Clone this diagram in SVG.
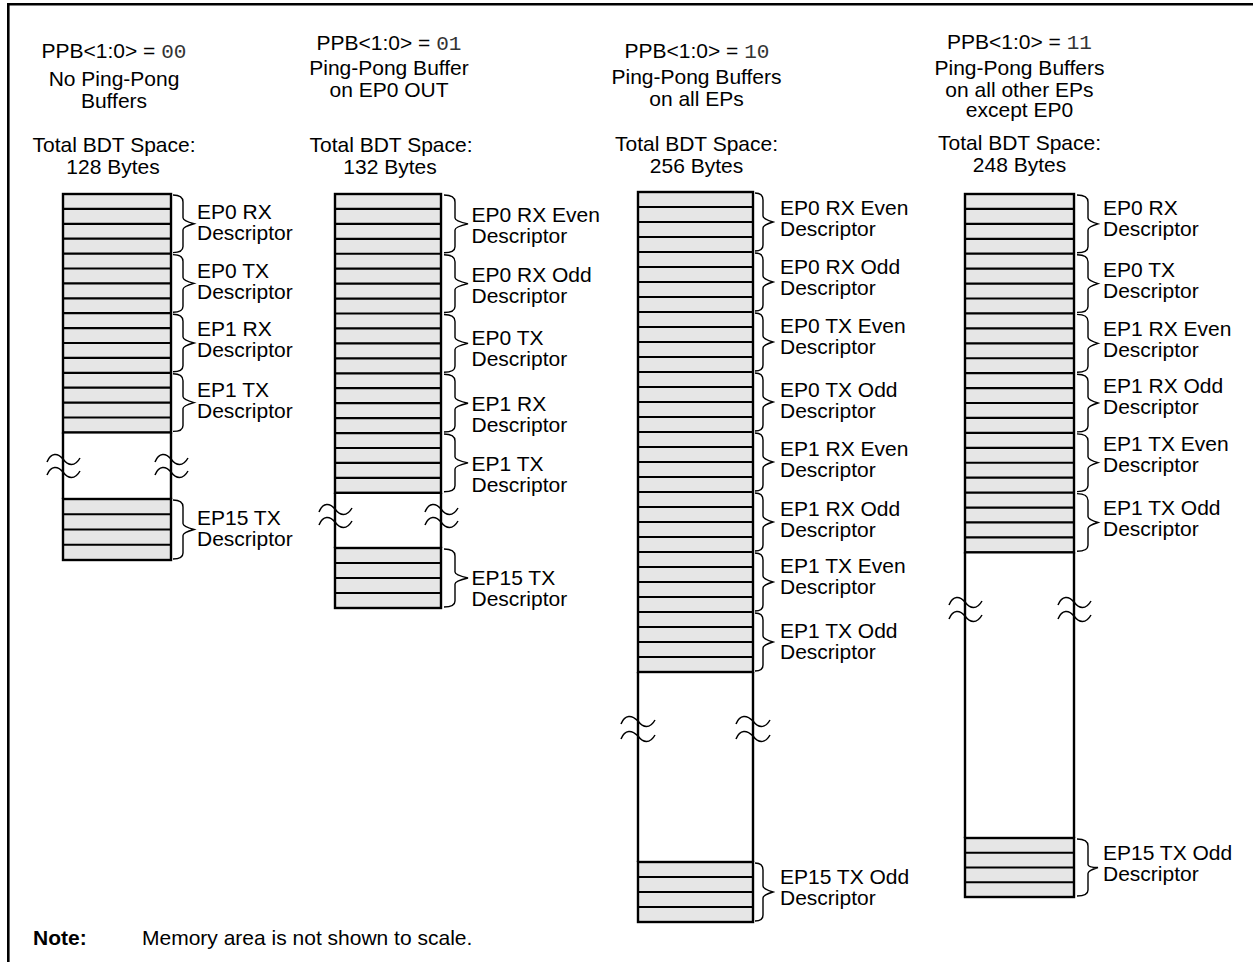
<svg xmlns="http://www.w3.org/2000/svg" width="1253" height="962" viewBox="0 0 1253 962">
<style>
text{font-family:"Liberation Sans",Arial,sans-serif;font-size:21px;fill:#000}
.c{text-anchor:middle}
.mono{font-family:"Liberation Mono","Courier New",monospace;font-size:21px;fill:#333}
.b{font-weight:bold}
.cell{fill:#e6e6e6;stroke:#000;stroke-width:2.4}
.div{fill:none;stroke:#000;stroke-width:2.2}
.side{fill:none;stroke:#000;stroke-width:2.4}
.brace{fill:none;stroke:#000;stroke-width:1.4}
.brk{fill:none;stroke:#000;stroke-width:1.5}
.frame{fill:none;stroke:#000;stroke-width:2.6}
</style>
<rect width="1253" height="962" fill="#fff"/>
<path class="frame" d="M8.3,962 V4.3 H1253"/>

<!-- Column 1 -->
<g id="col1">
<text class="c" x="114" y="58">PPB&lt;1:0&gt; = <tspan class="mono">00</tspan></text>
<text class="c" x="114" y="86">No Ping-Pong</text>
<text class="c" x="114" y="108">Buffers</text>
<text class="c" x="114" y="152">Total BDT Space:</text>
<text class="c" x="113" y="174">128 Bytes</text>
<rect class="cell" x="63" y="194" width="108" height="238.4"/>
<path class="div" d="M63,208.9H171M63,223.8H171M63,238.7H171M63,253.6H171M63,268.5H171M63,283.4H171M63,298.3H171M63,313.2H171M63,328.1H171M63,343H171M63,357.9H171M63,372.8H171M63,387.7H171M63,402.6H171M63,417.5H171"/>
<path class="side" d="M63,432.4V499M171,432.4V499"/>
<path class="brk" d="M47,462C51,452 58,453 63,459C68,466 75,467 80,458M47,475C51,465 58,466 63,472C68,479 75,480 80,471M155,462C159,452 166,453 171,459C176,466 183,467 188,458M155,475C159,465 166,466 171,472C176,479 183,480 188,471"/>
<rect class="cell" x="63" y="499" width="108" height="61"/>
<path class="div" d="M63,514.25H171M63,529.5H171M63,544.75H171"/>
<path class="brace" d="M173,195Q183,195 183,202V217.8Q183,220.8 194,223.8Q183,226.8 183,229.8V246.6Q183,252.6 173,252.6M173,254.6Q183,254.6 183,261.6V277.4Q183,280.4 194,283.4Q183,286.4 183,289.4V306.2Q183,312.2 173,312.2M173,314.2Q183,314.2 183,321.2V337Q183,340 194,343Q183,346 183,349V365.8Q183,371.8 173,371.8M173,373.8Q183,373.8 183,380.8V396.6Q183,399.6 194,402.6Q183,405.6 183,408.6V425.4Q183,431.4 173,431.4M173,500Q183,500 183,507V523.5Q183,526.5 194,529.5Q183,532.5 183,535.5V553Q183,559 173,559"/>
<text x="197" y="219">EP0 RX</text><text x="197" y="240">Descriptor</text>
<text x="197" y="278">EP0 TX</text><text x="197" y="299">Descriptor</text>
<text x="197" y="336">EP1 RX</text><text x="197" y="357">Descriptor</text>
<text x="197" y="397">EP1 TX</text><text x="197" y="418">Descriptor</text>
<text x="197" y="525">EP15 TX</text><text x="197" y="546">Descriptor</text>
</g>

<!-- Column 2 -->
<g id="col2">
<text class="c" x="389" y="50">PPB&lt;1:0&gt; = <tspan class="mono">01</tspan></text>
<text class="c" x="389" y="75">Ping-Pong Buffer</text>
<text class="c" x="389" y="97">on EP0 OUT</text>
<text class="c" x="391" y="152">Total BDT Space:</text>
<text class="c" x="390" y="174">132 Bytes</text>
<rect class="cell" x="335" y="194" width="106" height="298.8"/>
<path class="div" d="M335,208.94H441M335,223.88H441M335,238.82H441M335,253.76H441M335,268.7H441M335,283.64H441M335,298.58H441M335,313.52H441M335,328.46H441M335,343.4H441M335,358.34H441M335,373.28H441M335,388.22H441M335,403.16H441M335,418.1H441M335,433.04H441M335,447.98H441M335,462.92H441M335,477.86H441"/>
<path class="side" d="M335,492.8V548M441,492.8V548"/>
<path class="brk" d="M319,512C323,502 330,503 335,509C340,516 347,517 352,508M319,525C323,515 330,516 335,522C340,529 347,530 352,521M425,512C429,502 436,503 441,509C446,516 453,517 458,508M425,525C429,515 436,516 441,522C446,529 453,530 458,521"/>
<rect class="cell" x="335" y="548" width="106" height="60"/>
<path class="div" d="M335,563H441M335,578H441M335,593H441"/>
<path class="brace" d="M444,195Q455,195 455,202V217.9Q455,220.9 468,223.9Q455,226.9 455,229.9V246.8Q455,252.8 444,252.8M444,254.8Q455,254.8 455,261.8V277.6Q455,280.6 468,283.6Q455,286.6 455,289.6V306.5Q455,312.5 444,312.5M444,314.5Q455,314.5 455,321.5V337.4Q455,340.4 468,343.4Q455,346.4 455,349.4V366.3Q455,372.3 444,372.3M444,374.3Q455,374.3 455,381.3V397.2Q455,400.2 468,403.2Q455,406.2 455,409.2V426Q455,432 444,432M444,434Q455,434 455,441V456.9Q455,459.9 468,462.9Q455,465.9 455,468.9V485.8Q455,491.8 444,491.8M444,549Q455,549 455,556V572Q455,575 468,578Q455,581 455,584V601Q455,607 444,607"/>
<text x="471.5" y="222">EP0 RX Even</text><text x="471.5" y="243">Descriptor</text>
<text x="471.5" y="281.5">EP0 RX Odd</text><text x="471.5" y="302.5">Descriptor</text>
<text x="471.5" y="345">EP0 TX</text><text x="471.5" y="366">Descriptor</text>
<text x="471.5" y="411">EP1 RX</text><text x="471.5" y="432">Descriptor</text>
<text x="471.5" y="471">EP1 TX</text><text x="471.5" y="492">Descriptor</text>
<text x="471.5" y="585">EP15 TX</text><text x="471.5" y="606">Descriptor</text>
</g>

<!-- Column 3 -->
<g id="col3">
<text class="c" x="697" y="58.3">PPB&lt;1:0&gt; = <tspan class="mono">10</tspan></text>
<text class="c" x="696.5" y="84">Ping-Pong Buffers</text>
<text class="c" x="696.5" y="106">on all EPs</text>
<text class="c" x="696.5" y="151">Total BDT Space:</text>
<text class="c" x="696.5" y="173">256 Bytes</text>
<rect class="cell" x="638" y="192" width="115" height="480"/>
<path class="div" d="M638,207H753M638,222H753M638,237H753M638,252H753M638,267H753M638,282H753M638,297H753M638,312H753M638,327H753M638,342H753M638,357H753M638,372H753M638,387H753M638,402H753M638,417H753M638,432H753M638,447H753M638,462H753M638,477H753M638,492H753M638,507H753M638,522H753M638,537H753M638,552H753M638,567H753M638,582H753M638,597H753M638,612H753M638,627H753M638,642H753M638,657H753"/>
<path class="side" d="M638,672V862M753,672V862"/>
<path class="brk" d="M621,724C625,714 632,715 638,721C643,728 650,729 655,720M621,739C625,729 632,730 638,736C643,743 650,744 655,735M736,724C740,714 747,715 753,721C758,728 765,729 770,720M736,739C740,729 747,730 753,736C758,743 765,744 770,735"/>
<rect class="cell" x="638" y="862" width="115" height="60"/>
<path class="div" d="M638,877H753M638,892H753M638,907H753"/>
<path class="brace" d="M755,193Q763,193 763,200V216Q763,219 773,222Q763,225 763,228V245Q763,251 755,251M755,253Q763,253 763,260V276Q763,279 773,282Q763,285 763,288V305Q763,311 755,311M755,313Q763,313 763,320V336Q763,339 773,342Q763,345 763,348V365Q763,371 755,371M755,373Q763,373 763,380V396Q763,399 773,402Q763,405 763,408V425Q763,431 755,431M755,433Q763,433 763,440V456Q763,459 773,462Q763,465 763,468V485Q763,491 755,491M755,493Q763,493 763,500V516Q763,519 773,522Q763,525 763,528V545Q763,551 755,551M755,553Q763,553 763,560V576Q763,579 773,582Q763,585 763,588V605Q763,611 755,611M755,613Q763,613 763,620V636Q763,639 773,642Q763,645 763,648V665Q763,671 755,671M755,863Q763,863 763,870V886Q763,889 773,892Q763,895 763,898V915Q763,921 755,921"/>
<text x="780" y="215">EP0 RX Even</text><text x="780" y="236">Descriptor</text>
<text x="780" y="274">EP0 RX Odd</text><text x="780" y="295">Descriptor</text>
<text x="780" y="333">EP0 TX Even</text><text x="780" y="354">Descriptor</text>
<text x="780" y="397">EP0 TX Odd</text><text x="780" y="418">Descriptor</text>
<text x="780" y="455.5">EP1 RX Even</text><text x="780" y="476.5">Descriptor</text>
<text x="780" y="515.5">EP1 RX Odd</text><text x="780" y="536.5">Descriptor</text>
<text x="780" y="572.5">EP1 TX Even</text><text x="780" y="593.5">Descriptor</text>
<text x="780" y="637.5">EP1 TX Odd</text><text x="780" y="658.5">Descriptor</text>
<text x="780" y="883.5">EP15 TX Odd</text><text x="780" y="904.5">Descriptor</text>
</g>

<!-- Column 4 -->
<g id="col4">
<text class="c" x="1019.5" y="49.3">PPB&lt;1:0&gt; = <tspan class="mono">11</tspan></text>
<text class="c" x="1019.5" y="75">Ping-Pong Buffers</text>
<text class="c" x="1019.5" y="96.7">on all other EPs</text>
<text class="c" x="1019.5" y="117">except EP0</text>
<text class="c" x="1019.5" y="150">Total BDT Space:</text>
<text class="c" x="1019.5" y="172">248 Bytes</text>
<rect class="cell" x="965" y="194" width="109" height="358.3"/>
<path class="div" d="M965,208.93H1074M965,223.86H1074M965,238.79H1074M965,253.72H1074M965,268.65H1074M965,283.58H1074M965,298.51H1074M965,313.44H1074M965,328.37H1074M965,343.3H1074M965,358.23H1074M965,373.16H1074M965,388.09H1074M965,403.02H1074M965,417.95H1074M965,432.88H1074M965,447.81H1074M965,462.74H1074M965,477.67H1074M965,492.6H1074M965,507.53H1074M965,522.46H1074M965,537.39H1074"/>
<path class="side" d="M965,552.3V838M1074,552.3V838"/>
<path class="brk" d="M949,605C953,595 960,596 965,602C970,609 977,610 982,601M949,619C953,609 960,610 965,616C970,623 977,624 982,615M1058,605C1062,595 1069,596 1074,602C1079,609 1086,610 1091,601M1058,619C1062,609 1069,610 1074,616C1079,623 1086,624 1091,615"/>
<rect class="cell" x="965" y="838" width="109" height="59"/>
<path class="div" d="M965,852.75H1074M965,867.5H1074M965,882.25H1074"/>
<path class="brace" d="M1077,195Q1088,195 1088,202V217.9Q1088,220.9 1098,223.9Q1088,226.9 1088,229.9V246.7Q1088,252.7 1077,252.7M1077,254.7Q1088,254.7 1088,261.7V277.6Q1088,280.6 1098,283.6Q1088,286.6 1088,289.6V306.4Q1088,312.4 1077,312.4M1077,314.4Q1088,314.4 1088,321.4V337.3Q1088,340.3 1098,343.3Q1088,346.3 1088,349.3V366.2Q1088,372.2 1077,372.2M1077,374.2Q1088,374.2 1088,381.2V397Q1088,400 1098,403Q1088,406 1088,409V425.9Q1088,431.9 1077,431.9M1077,433.9Q1088,433.9 1088,440.9V456.7Q1088,459.7 1098,462.7Q1088,465.7 1088,468.7V485.6Q1088,491.6 1077,491.6M1077,493.6Q1088,493.6 1088,500.6V516.5Q1088,519.5 1098,522.5Q1088,525.5 1088,528.5V545.3Q1088,551.3 1077,551.3M1077,839Q1088,839 1088,846V864.5Q1088,867.5 1098,867.5Q1088,870.5 1088,873.5V890Q1088,896 1077,896"/>
<text x="1103" y="215">EP0 RX</text><text x="1103" y="236">Descriptor</text>
<text x="1103" y="277">EP0 TX</text><text x="1103" y="298">Descriptor</text>
<text x="1103" y="336">EP1 RX Even</text><text x="1103" y="357">Descriptor</text>
<text x="1103" y="393.3">EP1 RX Odd</text><text x="1103" y="414.3">Descriptor</text>
<text x="1103" y="451">EP1 TX Even</text><text x="1103" y="472">Descriptor</text>
<text x="1103" y="515">EP1 TX Odd</text><text x="1103" y="536">Descriptor</text>
<text x="1103" y="860">EP15 TX Odd</text><text x="1103" y="881">Descriptor</text>
</g>

<g id="connectors"></g>

<g id="note">
<text class="b" x="33" y="945">Note:</text>
<text x="142" y="945">Memory area is not shown to scale.</text>
</g>
</svg>
